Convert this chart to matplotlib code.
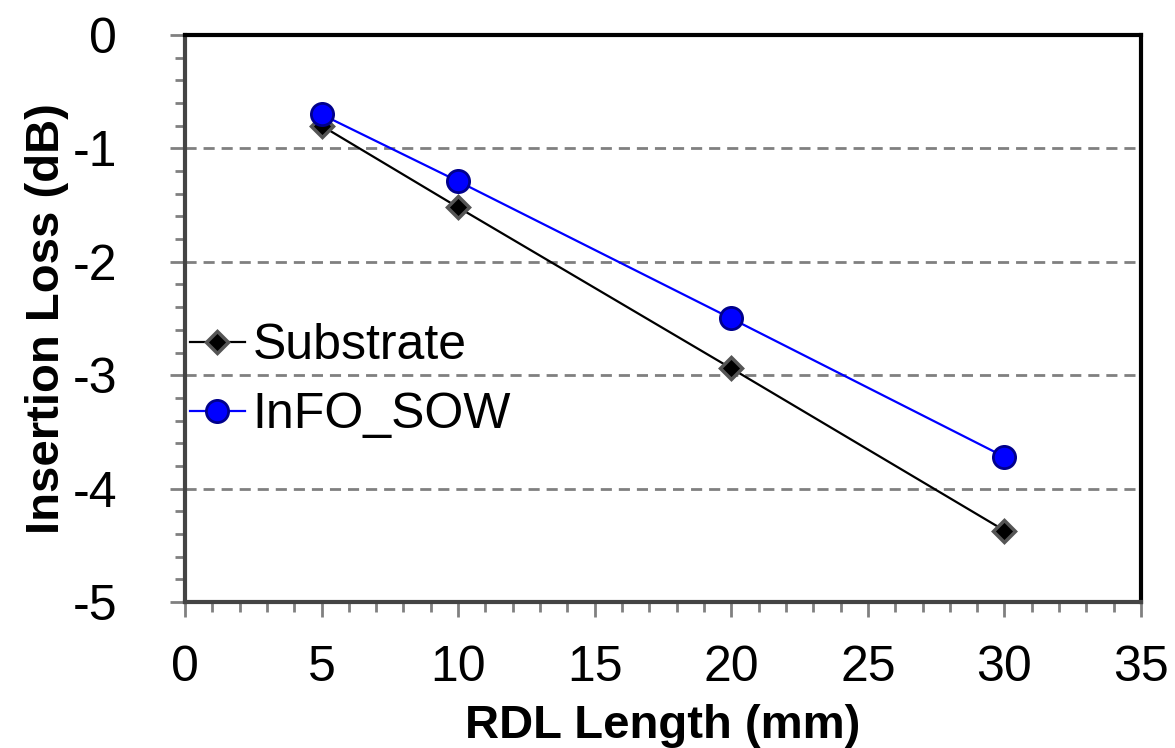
import numpy as np
import matplotlib
matplotlib.use('Agg')
import matplotlib.pyplot as plt
from matplotlib.ticker import MultipleLocator

plt.rcParams['font.family'] = ['Liberation Sans', 'DejaVu Sans']
plt.rcParams['axes.unicode_minus'] = False

# === DATA ===
rdl_length = [5, 10, 20, 30]
substrate_il = [-0.80, -1.52, -2.94, -4.37]
info_sow_il = [-0.70, -1.29, -2.50, -3.72]

fig = plt.figure(figsize=(11.75, 7.48), dpi=100)
ax = fig.add_axes([0.1574, 0.1952, 0.9711 - 0.1574, 0.9532 - 0.1952])

# dashed horizontal grid at major y ticks
for yv in [-1, -2, -3, -4]:
    ax.axhline(yv, color='#808080', linestyle=(0, (4, 2.5)), linewidth=2, zorder=1)

ax.plot(rdl_length, substrate_il, '-', color='black', linewidth=1.6,
        marker='D', markersize=11, markerfacecolor='black',
        markeredgecolor='#555555', markeredgewidth=2.5, label='Substrate', zorder=3)
ax.plot(rdl_length, info_sow_il, '-', color='#0000ff', linewidth=1.6,
        marker='o', markersize=16, markerfacecolor='#0000ff',
        markeredgecolor='#00008b', markeredgewidth=2, label='InFO_SOW', zorder=4)

ax.set_xlim(0, 35)
ax.set_ylim(-5, 0)
ax.xaxis.set_major_locator(MultipleLocator(5))
ax.xaxis.set_minor_locator(MultipleLocator(1))
ax.yaxis.set_major_locator(MultipleLocator(1))
ax.yaxis.set_minor_locator(MultipleLocator(0.2))

ax.tick_params(axis='both', which='major', direction='out', length=11, width=2,
               color='#808080', labelsize=36)
ax.tick_params(axis='both', which='minor', direction='out', length=7, width=2,
               color='#808080')
ax.tick_params(axis='x', which='major', pad=20)
ax.tick_params(axis='y', which='major', pad=38)

for side in ['top', 'right']:
    ax.spines[side].set_linewidth(3)
    ax.spines[side].set_color('black')
for side in ['left', 'bottom']:
    ax.spines[side].set_linewidth(3)
    ax.spines[side].set_color('#444444')

ax.set_xlabel('RDL Length (mm)', fontsize=34, fontweight='bold', labelpad=9)
ax.set_ylabel('Insertion Loss (dB)', fontsize=34, fontweight='bold', labelpad=2)

ax.legend(loc='upper left', bbox_to_anchor=(0.0, 0.50), frameon=False,
          fontsize=36, handlelength=1.1, handletextpad=0.15, labelspacing=0.46,
          borderaxespad=0, borderpad=0.1)

fig.savefig('out.png', dpi=100)
